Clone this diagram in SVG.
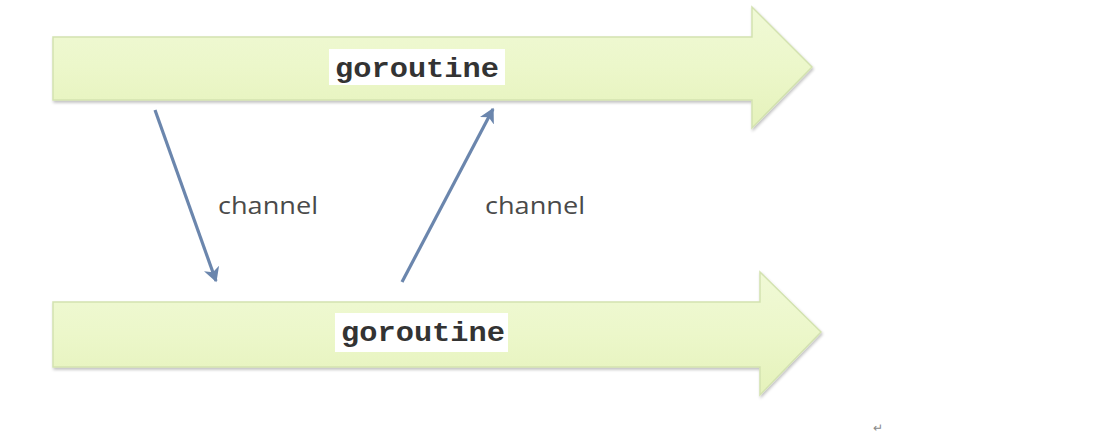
<svg xmlns="http://www.w3.org/2000/svg" width="1094" height="436" viewBox="0 0 1094 436">
  <defs>
    <linearGradient id="fillGrad" x1="0" y1="0" x2="0" y2="1">
      <stop offset="0" stop-color="#f0f9d6"/>
      <stop offset="0.5" stop-color="#ecf7ca"/>
      <stop offset="1" stop-color="#e5f2bb"/>
    </linearGradient>
    <filter id="shadow" x="-5%" y="-10%" width="110%" height="130%">
      <feGaussianBlur in="SourceAlpha" stdDeviation="1.5"/>
      <feOffset dx="1" dy="2" result="b"/>
      <feComponentTransfer><feFuncA type="linear" slope="0.25"/></feComponentTransfer>
      <feMerge><feMergeNode/><feMergeNode in="SourceGraphic"/></feMerge>
    </filter>
    <marker id="head" viewBox="0 0 12 12" refX="10" refY="6" markerWidth="5" markerHeight="5" orient="auto" markerUnits="strokeWidth">
      <path d="M0,0 L11,6 L0,12 L3,6 Z" fill="#6b86ad"/>
    </marker>
    <style>
      .band { fill: url(#fillGrad); stroke: #d3e2b0; stroke-width: 1.5; filter: url(#shadow); }
      .lblbg { fill: #ffffff; }
      .glabel { font-family: "Liberation Mono", "DejaVu Sans Mono", monospace; font-size: 28px; font-weight: bold; fill: #333333; }
      .clabel { font-family: "Open Sans", "Noto Sans", "Liberation Sans", sans-serif; font-size: 24px; fill: #4a4a4a; }
      .conn { stroke: #6b86ad; stroke-width: 3.2; fill: none; marker-end: url(#head); }
      .mark { font-family: "Liberation Sans", sans-serif; font-size: 12px; fill: #888888; }
    </style>
  </defs>
  <rect width="1094" height="436" fill="#ffffff"/>

  <g id="goroutine-top">
    <path class="band" d="M53,37 L752,37 L752,7 L812,67 L752,128 L752,100 L53,100 Z"/>
    <rect class="lblbg" x="329" y="49" width="176" height="36"/>
    <text class="glabel" x="417" y="77" text-anchor="middle" textLength="164" lengthAdjust="spacingAndGlyphs">goroutine</text>
  </g>

  <g id="goroutine-bottom">
    <path class="band" d="M53,302 L760,302 L760,272 L821,332 L760,395 L760,367 L53,367 Z"/>
    <rect class="lblbg" x="335" y="313" width="173" height="39"/>
    <text class="glabel" x="423" y="341" text-anchor="middle" textLength="164" lengthAdjust="spacingAndGlyphs">goroutine</text>
  </g>

  <g id="connectors">
    <line class="conn" x1="155" y1="110" x2="216" y2="281"/>
    <line class="conn" x1="402" y1="282" x2="493" y2="109"/>
  </g>

  <g id="labels">
    <text class="clabel" x="218" y="214" textLength="100" lengthAdjust="spacingAndGlyphs">channel</text>
    <text class="clabel" x="485" y="214" textLength="100" lengthAdjust="spacingAndGlyphs">channel</text>
    <text class="mark" x="873" y="432">↵</text>
  </g>
</svg>
